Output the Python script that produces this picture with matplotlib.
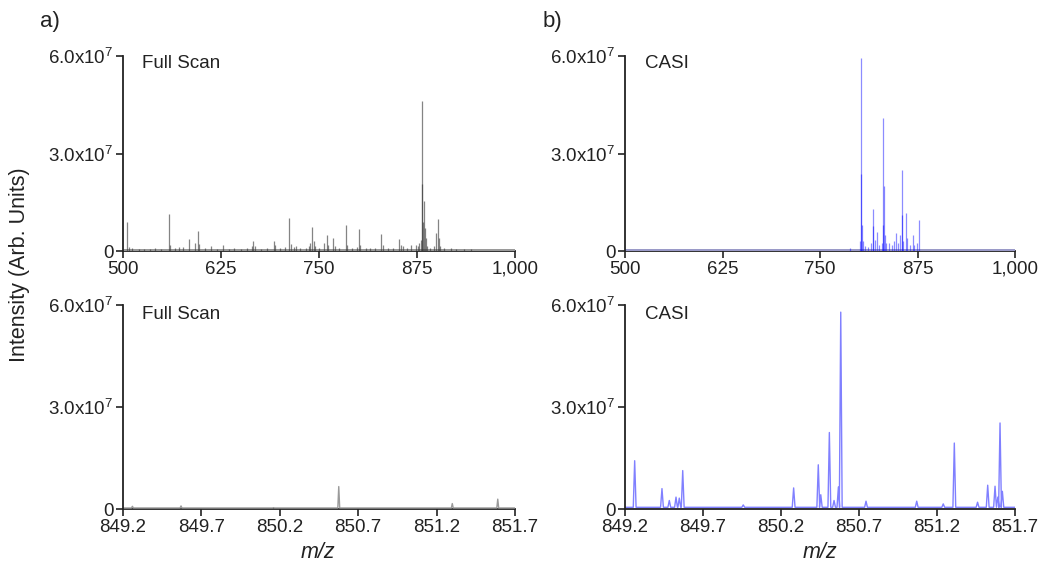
import matplotlib
matplotlib.use('Agg')
import matplotlib.pyplot as plt
import numpy as np

plt.rcParams['font.family'] = ['Liberation Sans', 'DejaVu Sans']
plt.rcParams['mathtext.fontset'] = 'custom'
plt.rcParams['mathtext.rm'] = 'Liberation Sans'
plt.rcParams['mathtext.it'] = 'Liberation Sans:italic'

# ---------------- data ----------------
# a) Full scan, wide range (m/z, intensity in 1e6)
full_mz = [505.5, 508, 512, 520, 527, 535, 541, 548, 558.7, 560, 566, 571, 576, 584.2, 591.8,
           595.2, 597, 604, 612, 620, 627, 635, 642, 650, 658, 664, 666, 668, 676, 684, 692,
           693.5, 700, 707, 712, 714, 718, 721, 726, 733, 737, 739, 741, 743, 745, 750, 756.4,
           760, 762, 768, 770, 776, 784.4, 786, 792, 798, 800.6, 802, 810, 815, 822, 829.5,
           831, 838, 845, 852, 854, 857, 862, 867, 873.5, 876, 878, 880, 881, 881.6, 882.5,
           884, 885, 886, 888, 892, 897, 899, 901.3, 902.5, 904, 910, 918, 925, 935, 944]
full_int = [8.8, 1.2, 0.8, 0.6, 0.7, 0.6, 0.8, 0.6, 11.3, 2.0, 1.0, 1.1, 1.3, 3.6, 2.6,
            6.2, 2.2, 0.8, 1.5, 0.6, 1.8, 0.7, 0.8, 0.6, 0.8, 1.5, 3.1, 1.4, 0.7, 0.8, 3.2,
            2.0, 0.8, 1.2, 10.3, 2.2, 1.2, 1.5, 1.0, 0.8, 1.4, 2.5, 7.4, 3.0, 1.5, 0.9, 2.5,
            4.9, 1.8, 4.0, 1.5, 1.0, 8.0, 2.0, 0.9, 1.2, 6.9, 2.0, 0.8, 0.8, 0.8, 5.2,
            1.8, 0.8, 0.9, 3.6, 1.8, 1.5, 0.8, 1.8, 2.0, 1.5, 2.5, 3.5, 46.2, 20.6, 9.0,
            15.5, 7.0, 4.0, 1.5, 0.9, 1.5, 5.5, 9.8, 4.0, 1.5, 0.8, 0.8, 0.6, 0.5, 0.6]

# b) CASI, wide range
casi_mz = [788, 801, 802.2, 802.7, 803.5, 805, 808, 812, 816, 817.5, 818.4, 820, 823, 825,
           829, 830.5, 831.2, 831.8, 833, 835, 838, 842, 845, 847.4, 850, 853, 854.7, 855.3,
           857, 860, 861, 865, 869.6, 871, 874, 876.5]
casi_int = [1.0, 3.0, 59.5, 23.7, 8.0, 3.0, 1.5, 1.2, 2.5, 7.8, 12.9, 3.5, 5.7, 2.0,
            2.5, 8.0, 41.0, 20.0, 5.0, 2.5, 2.6, 2.0, 3.0, 5.6, 2.5, 5.0, 25.0, 11.0,
            3.0, 11.6, 4.0, 2.0, 5.0, 2.0, 2.5, 9.5]

# a) Full scan, narrow range
zfull_mz = [849.26, 849.57, 850.16, 850.576, 851.30, 851.59]
zfull_int = [0.8, 0.9, 0.4, 6.6, 1.6, 2.9]

# b) CASI, narrow range
zcasi_mz = [849.262, 849.437, 849.484, 849.527, 849.548, 849.570, 849.958, 850.281, 850.439,
            850.455, 850.510, 850.540, 850.568, 850.583, 850.745, 851.07, 851.24, 851.311,
            851.46, 851.525, 851.572, 851.590, 851.604, 851.619]
zcasi_int = [14.2, 6.0, 2.5, 3.5, 3.2, 11.3, 1.2, 6.2, 13.0, 4.2, 22.5, 2.5, 6.5, 57.9,
             2.3, 2.3, 1.5, 19.4, 2.0, 7.0, 6.7, 3.5, 25.3, 5.2]

baseline_wide = 0.7      # 1e6
baseline_narrow = 0.5    # 1e6

wide_ticks = [500, 625, 750, 875, 1000]
wide_labels = ['500', '625', '750', '875', '1,000']
narrow_ticks = [849.2, 849.7, 850.2, 850.7, 851.2, 851.7]
narrow_labels = ['849.2', '849.7', '850.2', '850.7', '851.2', '851.7']
y_ticks = [0, 3.0e7, 6.0e7]
y_labels = ['0', r'3.0x10$^{7}$', r'6.0x10$^{7}$']

E6 = 1e6

fig = plt.figure(figsize=(10.5, 5.75), dpi=100)
W, H = 1050, 575

def add_ax(left, right, top, bottom):
    return fig.add_axes([left / W, 1 - bottom / H, (right - left) / W, (bottom - top) / H])

ax1 = add_ax(123, 515, 56, 251)
ax2 = add_ax(625, 1015, 56, 251)
ax3 = add_ax(123, 515, 305, 509)
ax4 = add_ax(625, 1015, 305, 509)

def style(ax, ticks, labels, xlim):
    ax.set_xlim(*xlim)
    ax.set_ylim(0, 6.0e7)
    for s in ['top', 'right']:
        ax.spines[s].set_visible(False)
    for s in ['left', 'bottom']:
        ax.spines[s].set_linewidth(1.3)
        ax.spines[s].set_color('#222222')
    ax.set_xticks(ticks)
    ax.set_xticklabels(labels)
    ax.set_yticks(y_ticks)
    ax.set_yticklabels(y_labels)
    ax.tick_params(direction='out', length=5, width=1.2, labelsize=13.5, pad=2, colors='#222222')
    ax.patch.set_alpha(0)

# top-left
ax1.fill_between([500, 1000], 0, baseline_wide * E6, color='#9a9a9a', lw=0)
ax1.vlines(full_mz, 0, np.array(full_int) * E6, color='#333333', lw=0.9, alpha=0.6)
style(ax1, wide_ticks, wide_labels, (500, 1000))

# top-right
ax2.fill_between([500, 1000], 0, baseline_wide * E6, color='#9a9ac8', lw=0)
ax2.vlines(casi_mz, 0, np.array(casi_int) * E6, color='#0000ff', lw=0.9, alpha=0.45)
style(ax2, wide_ticks, wide_labels, (500, 1000))

def profile(mz, inten, base, w):
    xs, ys = [849.2], [base]
    for c, h in zip(mz, inten):
        xs += [c - w, c, c + w]
        ys += [base, h, base]
    xs.append(851.7)
    ys.append(base)
    return np.array(xs), np.array(ys) * E6

x3, y3 = profile(zfull_mz, zfull_int, baseline_narrow * 0.6, 0.006)
ax3.plot(x3, y3, color='#9a9a9a', lw=1.0)
style(ax3, narrow_ticks, narrow_labels, (849.2, 851.7))

x4, y4 = profile(zcasi_mz, zcasi_int, baseline_narrow, 0.009)
ax4.plot(x4, y4, color='#8080ff', lw=1.0)
style(ax4, narrow_ticks, narrow_labels, (849.2, 851.7))

for ax in (ax1, ax3, ax2, ax4):
    ax.spines['bottom'].set_zorder(0.5)

def ftext(x, y, s, **kw):
    fig.text(x / W, 1 - y / H, s, va='center', **kw)

ftext(40, 22, 'a)', fontsize=16, color='#222222')
ftext(543, 22, 'b)', fontsize=16, color='#222222')
ftext(142, 64, 'Full Scan', fontsize=13.5, color='#222222')
ftext(645, 64, 'CASI', fontsize=13.5, color='#222222')
ftext(142, 315, 'Full Scan', fontsize=13.5, color='#222222')
ftext(645, 315, 'CASI', fontsize=13.5, color='#222222')
fig.text(20 / W, 1 - 265 / H, 'Intensity (Arb. Units)', rotation=90, va='center', ha='center',
         fontsize=15.5, color='#222222')
fig.text(318 / W, 1 - 552 / H, 'm/z', ha='center', va='center', fontsize=15.5,
         style='italic', color='#222222')
fig.text(820 / W, 1 - 552 / H, 'm/z', ha='center', va='center', fontsize=15.5,
         style='italic', color='#222222')

fig.savefig('out.png', dpi=100)
